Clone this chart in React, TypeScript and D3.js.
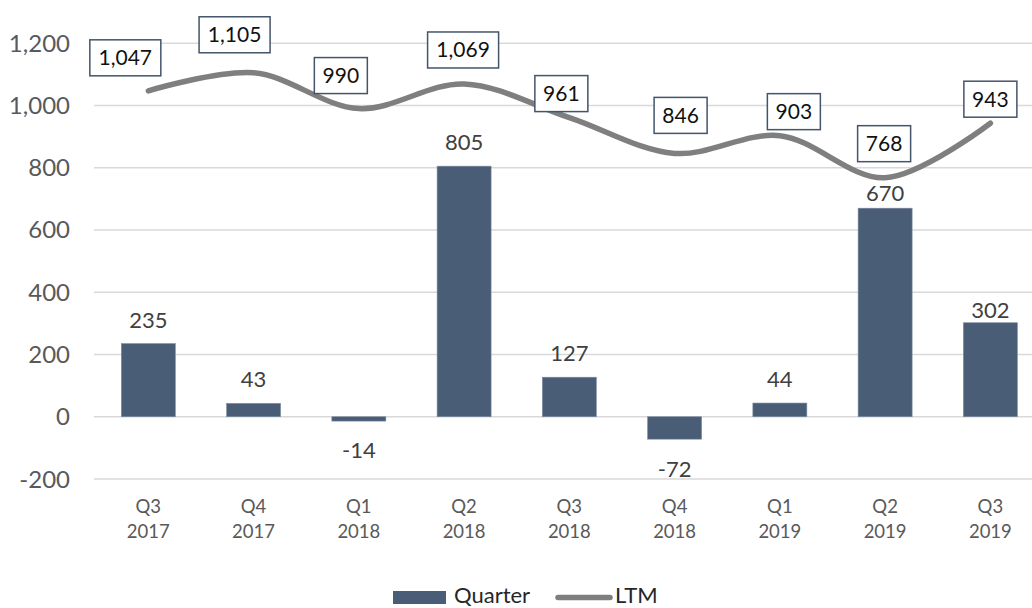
import React from "react";
import * as d3 from "d3";

const categories = ["Q3|2017", "Q4|2017", "Q1|2018", "Q2|2018", "Q3|2018", "Q4|2018", "Q1|2019", "Q2|2019", "Q3|2019"];
const quarterValues = [235, 43, -14, 805, 127, -72, 44, 670, 302];
const ltmValues = [1047, 1105, 990, 1069, 961, 846, 903, 768, 943];
const yTicks = [-200, 0, 200, 400, 600, 800, 1000, 1200];
// label placement offsets (styling) for the data labels
const ltmLabelDx = [-23, -19, -18, -1, -8, 6, 14, -1, 0];
const ltmLabelDy = [-33, -38, -33, -34, -24, -38, -24, -34, -24];
const barLabelGap = [16, 16, 37, 16, 16, 38, 16, 7, 4.5];

const W = 1032;
const H = 608;
const FONT = "Lato, 'Open Sans', sans-serif";
const BAR = "#4a5d77";
const LINE = "#7f7f7f";

const fmt = (v: number) => d3.format(",")(v).replace("\u2212", "-");

export default function App() {
  const x = d3.scaleBand<string>().domain(categories).range([95.7, 1043]).paddingInner(0.487).paddingOuter(0.2435);
  const y = d3.scaleLinear().domain([-200, 1200]).range([479, 43.2]);
  const cx = (i: number) => (x(categories[i]) as number) + x.bandwidth() / 2;
  const line = d3
    .line<number>()
    .x((_, i) => cx(i))
    .y((d) => y(d))
    .curve(d3.curveCatmullRom.alpha(0.5));

  return (
    <svg width={W} height={H} style={{ position: "absolute", left: 0, top: 0, background: "#fff" }} fontFamily={FONT}>
      <rect width={W} height={H} fill="#fff" />
      {yTicks.map((t) => (
        <g key={t}>
          <line x1={94} x2={W} y1={y(t)} y2={y(t)} stroke="#d9d9d9" strokeWidth={1.6} />
          <text x={70} y={y(t) + 8.5} textAnchor="end" fontSize={24} fill="#595959">
            {fmt(t)}
          </text>
        </g>
      ))}
      {quarterValues.map((v, i) => {
        const bx = x(categories[i]) as number;
        const top = y(Math.max(0, v));
        const bot = y(Math.min(0, v));
        return (
          <g key={i}>
            <rect x={bx} y={top} width={x.bandwidth()} height={Math.max(1, bot - top)} fill={BAR} stroke="#7d8ca0" strokeWidth={0.6} />
            <text
              x={bx + x.bandwidth() / 2}
              y={v >= 0 ? top - barLabelGap[i] : bot + barLabelGap[i]}
              textAnchor="middle"
              fontSize={22}
              fill="#404040"
            >
              {fmt(v)}
            </text>
          </g>
        );
      })}
      {categories.map((c, i) => {
        const [q, yr] = c.split("|");
        return (
          <g key={c} fontSize={18.5} fill="#595959" textAnchor="middle">
            <text x={cx(i)} y={513}>{q}</text>
            <text x={cx(i)} y={538}>{yr}</text>
          </g>
        );
      })}
      <path d={line(ltmValues) || ""} fill="none" stroke={LINE} strokeWidth={5.5} strokeLinecap="round" />
      {ltmValues.map((v, i) => {
        const label = fmt(v);
        const w = label.length >= 5 ? 71 : 53;
        const h = 36;
        const bxc = cx(i) + ltmLabelDx[i];
        const byc = y(v) + ltmLabelDy[i];
        return (
          <g key={i}>
            <rect x={bxc - w / 2} y={byc - h / 2} width={w} height={h} fill="#fff" stroke="#44546a" strokeWidth={1.5} />
            <text x={bxc} y={byc + 7.5} textAnchor="middle" fontSize={21} fill="#111">
              {label}
            </text>
          </g>
        );
      })}
      <g>
        <rect x={393} y={591} width={53} height={13} fill={BAR} />
        <text x={454} y={603} fontSize={22} fill="#262626">Quarter</text>
        <line x1={558} x2={610} y1={597.5} y2={597.5} stroke={LINE} strokeWidth={5.5} strokeLinecap="round" />
        <text x={615} y={603} fontSize={22} fill="#262626">LTM</text>
      </g>
    </svg>
  );
}
